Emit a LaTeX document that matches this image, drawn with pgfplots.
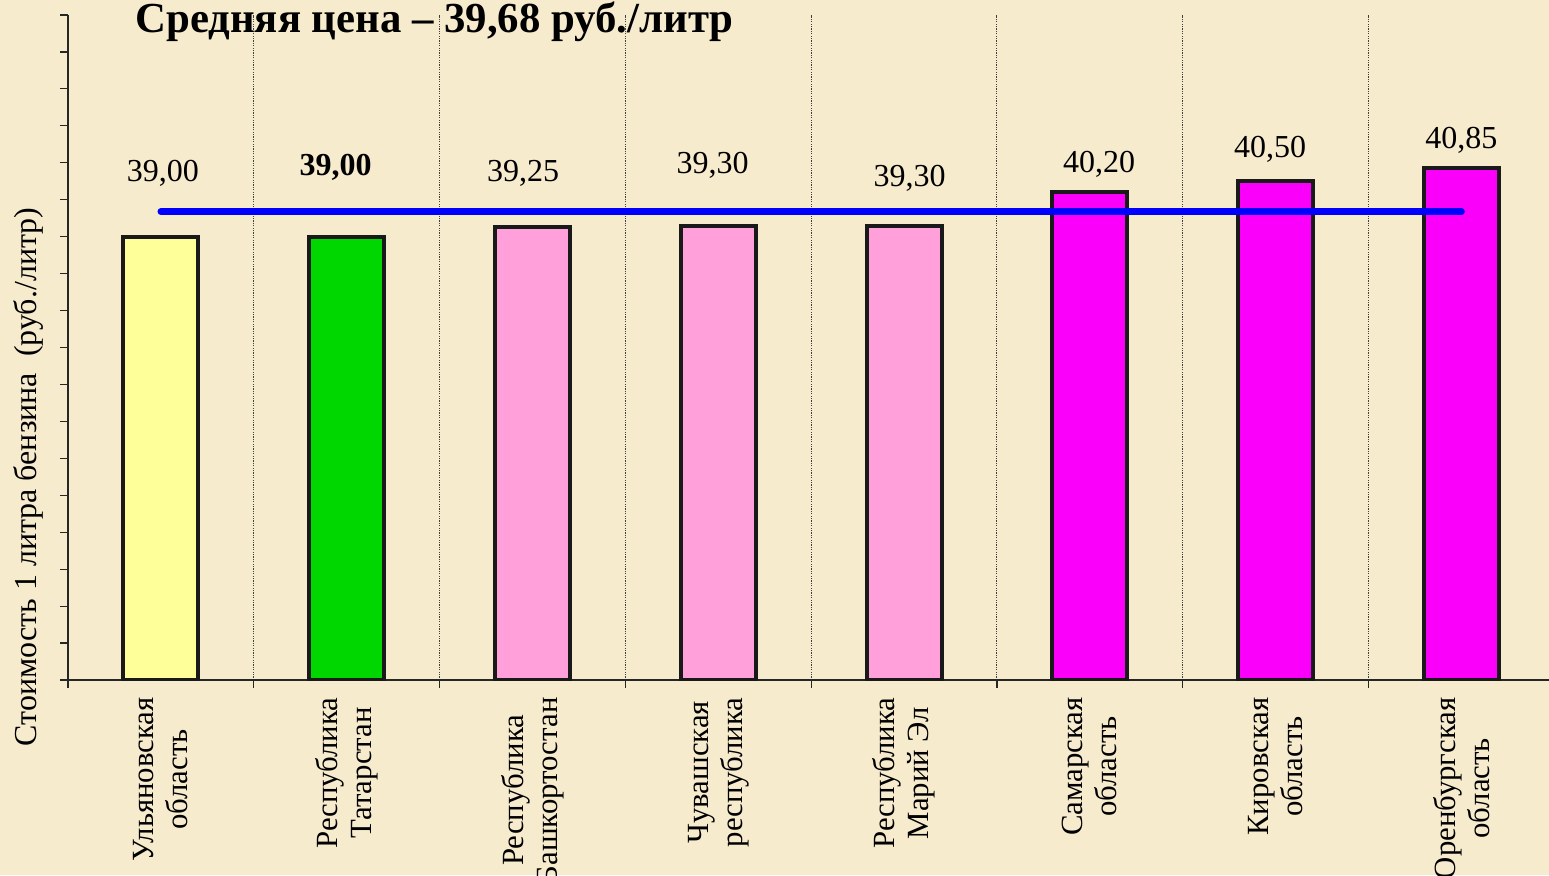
\documentclass[border=0pt]{standalone}
\usepackage{fontspec}
\setmainfont{Liberation Serif}
\usepackage{pgfplots}
\pgfplotsset{compat=1.18}
\definecolor{bg}{RGB}{247,235,206}
\definecolor{cyel}{RGB}{255,255,153}
\definecolor{cgrn}{RGB}{0,215,0}
\definecolor{cpnk}{RGB}{255,160,218}
\definecolor{cmag}{RGB}{250,0,250}
\begin{document}
\begin{tikzpicture}
\path[use as bounding box] (-34pt,-97.5pt) rectangle (740.5pt,340pt);
\fill[bg] (-34pt,-97.5pt) rectangle (740.5pt,340pt);
\begin{axis}[
  at={(0,0)}, anchor=south west,
  scale only axis, width=743.2pt, height=332.5pt,
  xmin=-0.5, xmax=7.5, ymin=27, ymax=45,
  axis x line*=bottom, axis y line*=left,
  axis line style={black!85, line width=0.75pt},
  tick align=outside, major tick length=3.8pt,
  every tick/.style={black!85, line width=0.6pt},
  ytick={27,28,...,45}, yticklabels={},
  xtick={-0.5,0.5,...,6.5}, xticklabels={},
  xmajorgrids,
  major grid style={black!75, line width=0.5pt, dash pattern=on 0.6pt off 0.6pt},
  extra x ticks={0,1,...,7},
  extra x tick labels={Ульяновская\\область, Республика\\Татарстан, Республика\\Башкортостан, Чувашская\\республика, Республика\\Марий Эл, Самарская\\область, Кировская\\область, Оренбургская\\область},
  extra x tick style={major tick length=0pt, grid=none,
    xticklabel style={rotate=90, anchor=east, align=center, inner sep=0pt,
      font=\fontsize{15.4}{17}\selectfont}},
  xticklabel shift=8.5pt,
]
\addplot[ybar, bar width=37.5pt, bar shift=0pt, fill=cyel, draw=black!90, line width=2pt] coordinates {(0,39.00)};
\addplot[ybar, bar width=37.5pt, bar shift=0pt, fill=cgrn, draw=black!90, line width=2pt] coordinates {(1,39.00)};
\addplot[ybar, bar width=37.5pt, bar shift=0pt, fill=cpnk, draw=black!90, line width=2pt] coordinates {(2,39.25) (3,39.30) (4,39.30)};
\addplot[ybar, bar width=37.5pt, bar shift=0pt, fill=cmag, draw=black!90, line width=2pt] coordinates {(5,40.20) (6,40.50) (7,40.85)};
\addplot[blue, line width=3.4pt, line cap=round] coordinates {(0,39.68) (7,39.68)};
\begin{scope}[every node/.style={anchor=base, inner sep=0pt, font=\fontsize{16}{19}\selectfont}]
\node at (axis cs:0.01,40.49) {39,00};
\node at (axis cs:0.94,40.65) {\bfseries 39,00};
\node at (axis cs:1.95,40.50) {39,25};
\node at (axis cs:2.97,40.70) {39,30};
\node at (axis cs:4.03,40.37) {39,30};
\node at (axis cs:5.05,40.74) {40,20};
\node at (axis cs:5.97,41.13) {40,50};
\node at (axis cs:7.00,41.40) {40,85};
\end{scope}
\end{axis}
\node[anchor=base west, inner sep=0pt, font=\fontsize{21.4}{25}\selectfont\bfseries] at (33.5pt,323.5pt) {Средняя цена – 39,68 руб./литр};
\node[rotate=90, inner sep=0pt, font=\fontsize{16}{19}\selectfont] at (-20pt,101.5pt) {Стоимость 1 литра бензина\ \ (руб./литр)};
\end{tikzpicture}
\end{document}
